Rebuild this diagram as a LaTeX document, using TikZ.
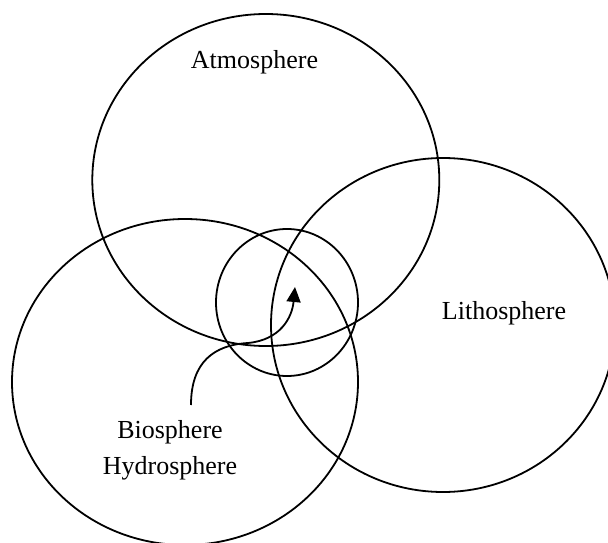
\documentclass[tikz,border=0pt]{standalone}
\usepackage{fontspec}
\setmainfont{Liberation Serif}
\usetikzlibrary{shapes.geometric,arrows.meta}
\begin{document}
\begin{tikzpicture}[x=1pt,y=-1pt,
  sphere/.style={draw, ellipse, inner sep=0pt, line width=1.8pt},
  lbl/.style={font=\fontsize{26}{36}\selectfont, inner sep=0pt, align=center}]
\useasboundingbox (0,0) rectangle (608,543);
\node[sphere, minimum width=347pt, minimum height=332pt] (atm) at (265.8,180) {};
\node[sphere, minimum width=344pt, minimum height=334pt] (lith) at (443,325) {};
\node[sphere, minimum width=346pt, minimum height=326pt] (hyd) at (185,382) {};
\node[sphere, minimum width=142pt, minimum height=147pt] (bio) at (287,302.5) {};
\node[lbl] (atmL) at (254.5,62) {Atmosphere};
\node[lbl] (lithL) at (504,313) {Lithosphere};
\node[lbl] (hydL) at (170,450) {Biosphere\\Hydrosphere};
\coordinate (s) at (191,405);
\coordinate (m) at (248,343);
\coordinate (t) at (295,287);
\draw[line width=1.8pt, -{Triangle[length=15pt,width=14pt]}] (s) .. controls (191,362) and (214,345) .. (m) .. controls (280,340) and (292,318) .. (t);
\end{tikzpicture}
\end{document}
